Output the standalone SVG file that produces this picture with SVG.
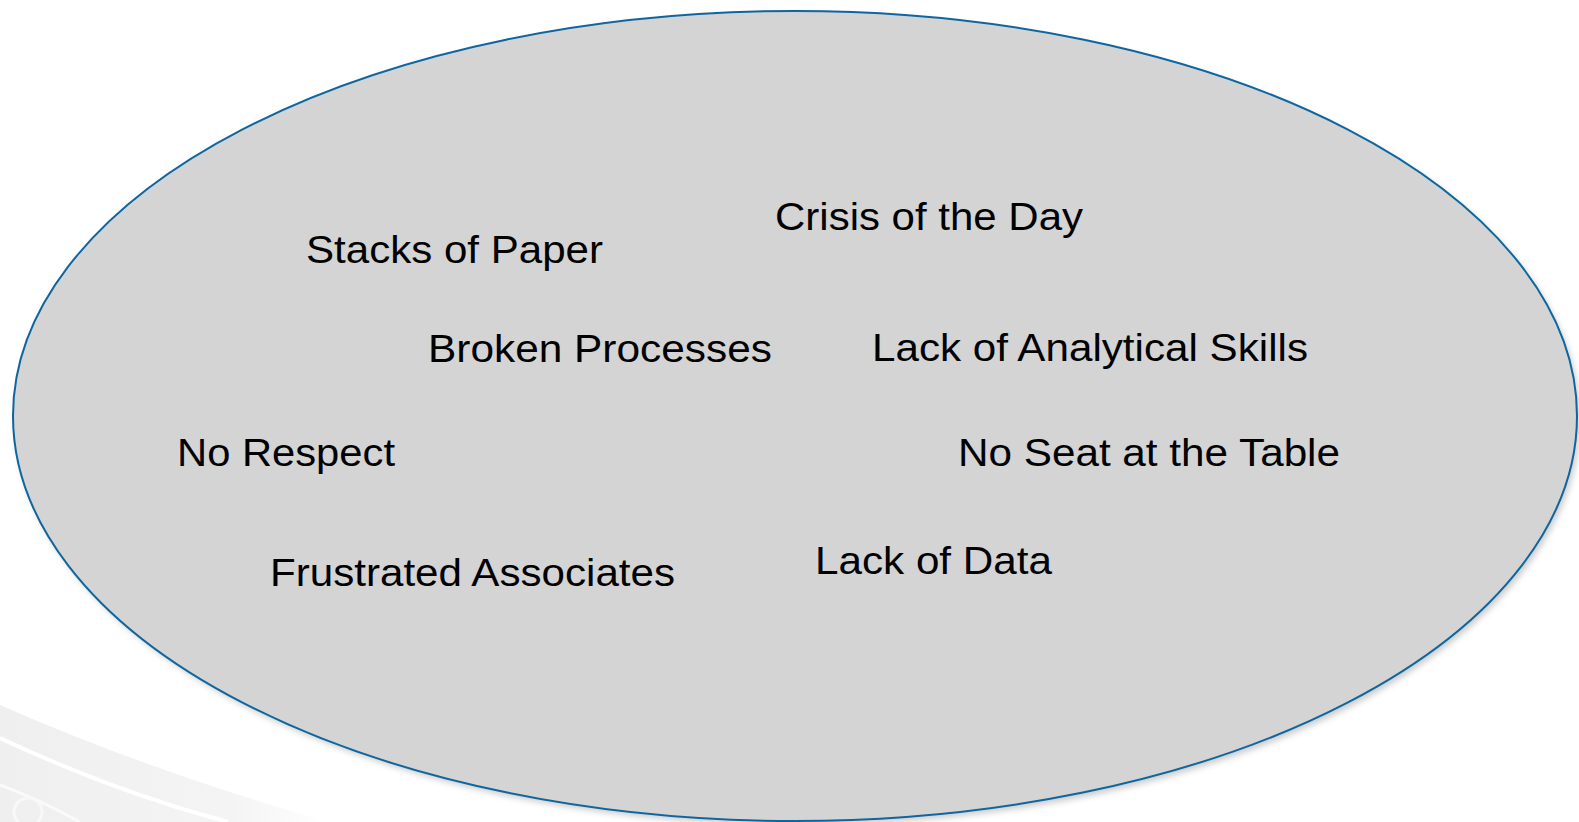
<svg xmlns="http://www.w3.org/2000/svg" width="1579" height="822" viewBox="0 0 1579 822">
<defs>
<style>
.lbl{font-family:"Liberation Sans",Arial,sans-serif;font-size:38px;fill:#000;}
</style>
<linearGradient id="fade" x1="0" y1="0" x2="1" y2="0">
<stop offset="0" stop-color="#efefef"/>
<stop offset="0.7" stop-color="#f4f4f4"/>
<stop offset="1" stop-color="#ffffff"/>
</linearGradient>
<filter id="sh" x="-5%" y="-5%" width="110%" height="115%">
<feGaussianBlur stdDeviation="3"/>
</filter>
</defs>
<rect width="1579" height="822" fill="#ffffff"/>
<g id="swoosh">
<path d="M0,705 Q160,775 330,822 L0,822 Z" fill="url(#fade)"/>
<path d="M0,738 Q115,792 228,822" fill="none" stroke="#ffffff" stroke-width="4"/>
<path d="M0,785 Q40,800 80,822" fill="none" stroke="#fafafa" stroke-width="3"/>
<circle cx="28" cy="812" r="14" fill="none" stroke="#f8f8f8" stroke-width="3"/>
</g>
<g id="ellipse">
<ellipse cx="798" cy="420" rx="782" ry="405" fill="#999" opacity="0.5" filter="url(#sh)"/>
<ellipse cx="795" cy="416" rx="782" ry="405" fill="#d4d4d4" stroke="#0d66a0" stroke-width="2"/>
</g>
<g id="n1"><text class="lbl" x="306" y="263" textLength="297" lengthAdjust="spacingAndGlyphs">Stacks of Paper</text></g>
<g id="n2"><text class="lbl" x="775" y="230" textLength="308" lengthAdjust="spacingAndGlyphs">Crisis of the Day</text></g>
<g id="n3"><text class="lbl" x="428" y="362" textLength="344" lengthAdjust="spacingAndGlyphs">Broken Processes</text></g>
<g id="n4"><text class="lbl" x="872" y="361" textLength="436" lengthAdjust="spacingAndGlyphs">Lack of Analytical Skills</text></g>
<g id="n5"><text class="lbl" x="177" y="466" textLength="218" lengthAdjust="spacingAndGlyphs">No Respect</text></g>
<g id="n6"><text class="lbl" x="958" y="466" textLength="382" lengthAdjust="spacingAndGlyphs">No Seat at the Table</text></g>
<g id="n7"><text class="lbl" x="270" y="586" textLength="405" lengthAdjust="spacingAndGlyphs">Frustrated Associates</text></g>
<g id="n8"><text class="lbl" x="815" y="574" textLength="237" lengthAdjust="spacingAndGlyphs">Lack of Data</text></g>
<g id="connectors"></g>
</svg>
